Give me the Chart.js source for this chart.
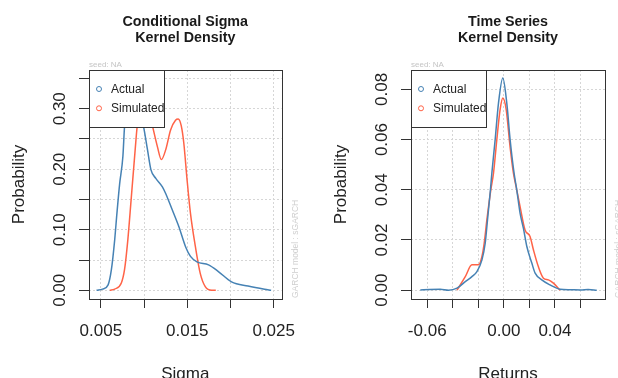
<!DOCTYPE html>
<html lang="en">
<head>
  <meta charset="UTF-8">
  <title>Kernel Density</title>
  <script src="https://cdn.jsdelivr.net/npm/chart.js"></script>
  <style>
    * {
      margin: 0;
      padding: 0;
      box-sizing: border-box;
    }

    body {
      width: 618px;
      height: 378px;
      background-color: #fff;
      position: relative;
      overflow: hidden;
    }

    .panel {
      position: absolute;
      top: 0;
      width: 309px;
      height: 378px;
    }

    #left-panel { left: 0; }
    #right-panel { left: 309px; }
  </style>
</head>
<body>
  <div class="panel" id="left-panel"><canvas id="sigma-chart" width="309" height="378"></canvas></div>
  <div class="panel" id="right-panel"><canvas id="returns-chart" width="309" height="378"></canvas></div>

  <script>
    const seriesNames = ['Actual', 'Simulated'];
    const seriesColors = ['#4682B4', '#FF6347'];

    // conditional sigma densities
    const sigmaActualX = [0.0045, 0.0052, 0.00584, 0.00622, 0.0066, 0.00686, 0.00717, 0.00755, 0.00774, 0.0081, 0.0086, 0.0092, 0.00995, 0.0104, 0.0108, 0.01136, 0.01212, 0.0125, 0.01326, 0.01403, 0.0148, 0.01537, 0.01612, 0.01746, 0.0186, 0.02012, 0.02203, 0.02394, 0.0247];
    const sigmaActualY = [0, 0.002, 0.009, 0.034, 0.083, 0.127, 0.175, 0.221, 0.27, 0.31, 0.33, 0.318, 0.27, 0.232, 0.199, 0.185, 0.171, 0.160, 0.133, 0.105, 0.072, 0.056, 0.047, 0.042, 0.031, 0.014, 0.007, 0.0017, 0];
    const sigmaSimX = [0.00603, 0.0066, 0.00737, 0.00774, 0.00812, 0.0085, 0.00897, 0.0092, 0.0096, 0.0101, 0.0106, 0.0110, 0.01155, 0.0120, 0.0125, 0.01307, 0.01364, 0.01395, 0.0143, 0.0146, 0.01498, 0.01537, 0.01594, 0.0165, 0.01708, 0.01783, 0.0183];
    const sigmaSimY = [0, 0.002, 0.012, 0.034, 0.083, 0.149, 0.232, 0.27, 0.30, 0.31, 0.295, 0.27, 0.237, 0.216, 0.232, 0.265, 0.281, 0.283, 0.272, 0.243, 0.182, 0.127, 0.072, 0.028, 0.006, 0, 0];
    const sigmaXTicks = [0.005, 0.010, 0.015, 0.020, 0.025];
    const sigmaXLabels = ['0.005', '', '0.015', '', '0.025'];
    const sigmaYTicks = [0, 0.05, 0.10, 0.15, 0.20, 0.25, 0.30, 0.35];
    const sigmaYLabels = ['0.00', '', '0.10', '', '0.20', '', '0.30', ''];

    // return densities
    const retActualX = [-0.0654, -0.058, -0.0498, -0.0433, -0.0367, -0.0302, -0.025, -0.0211, -0.0172, -0.0146, -0.0128, -0.0105, -0.0094, -0.0068, -0.0042, -0.0008, 0.0023, 0.0049, 0.008, 0.0101, 0.0127, 0.0153, 0.018, 0.0219, 0.0245, 0.0297, 0.0362, 0.044, 0.052, 0.06, 0.066, 0.0727];
    const retActualY = [0.0001, 0.0003, 0.0004, 0, 0.0008, 0.0034, 0.0054, 0.0074, 0.012, 0.0187, 0.028, 0.040, 0.0466, 0.060, 0.0745, 0.0845, 0.0745, 0.060, 0.0466, 0.040, 0.0307, 0.0247, 0.0174, 0.0108, 0.0068, 0.0041, 0.0021, 0.0004, 0.0002, 0.0001, 0.0003, 0];
    const retSimX = [-0.0367, -0.0302, -0.025, -0.0198, -0.0172, -0.0154, -0.0133, -0.0102, -0.0081, -0.0055, -0.0029, -0.0008, 0.0018, 0.0049, 0.0075, 0.0101, 0.0127, 0.0166, 0.0205, 0.0232, 0.027, 0.031, 0.0349, 0.0388, 0.044];
    const retSimY = [0, 0.0054, 0.0101, 0.0101, 0.0134, 0.0187, 0.028, 0.040, 0.0466, 0.060, 0.072, 0.0765, 0.072, 0.057, 0.0466, 0.040, 0.0333, 0.024, 0.0214, 0.016, 0.0094, 0.0048, 0.0041, 0.0028, 0];
    const retXTicks = [-0.06, -0.04, -0.02, 0, 0.02, 0.04, 0.06];
    const retXLabels = ['-0.06', '', '', '0.00', '', '0.04', ''];
    const retYTicks = [0, 0.02, 0.04, 0.06, 0.08];
    const retYLabels = ['0.00', '0.02', '0.04', '0.06', '0.08'];

    const FONT = "'Liberation Sans', Arial, Helvetica, sans-serif";
    Chart.defaults.font.family = FONT;

    function toPoints(xs, ys) {
      return xs.map((x, i) => ({ x, y: ys[i] }));
    }

    // R style extras: box, title, inset legend and margin notes
    const rPanel = {
      id: 'rPanel',
      afterDraw(chart, args, opts) {
        const { ctx, chartArea: a } = chart;
        ctx.save();

        // plot box
        ctx.strokeStyle = '#333';
        ctx.lineWidth = 1;
        ctx.strokeRect(Math.round(a.left) + 0.5, Math.round(a.top) + 0.5, Math.round(a.right - a.left), Math.round(a.bottom - a.top));

        // legend
        const lx = Math.round(a.left) + 0.5, ly = Math.round(a.top) + 0.5;
        ctx.fillStyle = '#fff';
        ctx.fillRect(lx, ly, 75, 57);
        ctx.strokeRect(lx, ly, 75, 57);
        ctx.font = '12px ' + FONT;
        ctx.textBaseline = 'middle';
        ctx.textAlign = 'left';
        chart.data.datasets.forEach((ds, i) => {
          const cy = a.top + 19 + i * 19.3;
          ctx.beginPath();
          ctx.arc(a.left + 10, cy, 2.5, 0, Math.PI * 2);
          ctx.strokeStyle = ds.borderColor;
          ctx.stroke();
          ctx.fillStyle = '#222';
          ctx.fillText(ds.label, a.left + 22, cy + 0.5);
        });

        // title
        const cx = (a.left + a.right) / 2;
        ctx.font = 'bold 14.3px ' + FONT;
        ctx.textAlign = 'center';
        ctx.fillStyle = '#1a1a1a';
        opts.title.forEach((line, i) => ctx.fillText(line, cx, 22 + i * 15.6));

        // seed note
        ctx.font = '8px ' + FONT;
        ctx.fillStyle = '#c4c4c4';
        ctx.textAlign = 'left';
        ctx.textBaseline = 'alphabetic';
        ctx.fillText('seed: NA', a.left, 66.5);

        // model note on the right margin
        ctx.translate(a.right + 14, a.bottom - 1);
        ctx.rotate(-Math.PI / 2);
        ctx.font = '8.5px ' + FONT;
        ctx.fillStyle = '#cfcfcf';
        ctx.textBaseline = 'middle';
        ctx.fillText('GARCH model : sGARCH', 0, 0);
        ctx.restore();
      }
    };

    function buildChart(canvasId, cfg) {
      const plotLeft = cfg.plotLeft;
      return new Chart(document.getElementById(canvasId), {
        type: 'scatter',
        data: {
          datasets: [
            {
              label: seriesNames[0],
              data: toPoints(cfg.actualX, cfg.actualY),
              borderColor: seriesColors[0],
              backgroundColor: seriesColors[0],
            },
            {
              label: seriesNames[1],
              data: toPoints(cfg.simX, cfg.simY),
              borderColor: seriesColors[1],
              backgroundColor: seriesColors[1],
            },
          ],
        },
        options: {
          responsive: false,
          animation: false,
          devicePixelRatio: 1,
          showLine: true,
          elements: {
            point: { radius: 0, hoverRadius: 0 },
            line: { borderWidth: 1.5, cubicInterpolationMode: 'monotone', fill: false },
          },
          layout: { padding: { top: 70, right: cfg.padRight, bottom: 0, left: 0 } },
          plugins: {
            legend: { display: false },
            tooltip: { enabled: false },
            rPanel: { title: cfg.title },
          },
          scales: {
            x: {
              type: 'linear',
              min: cfg.xMin,
              max: cfg.xMax,
              afterBuildTicks: (s) => { s.ticks = cfg.xTicks.map(v => ({ value: v })); },
              afterFit: (s) => { s.height = 79; },
              ticks: {
                autoSkip: false,
                maxRotation: 0,
                padding: 13,
                color: '#222',
                font: { size: 17 },
                callback: (v, i) => cfg.xLabels[i],
              },
              grid: { color: '#d6d6d6', tickColor: '#333', tickLength: 9, tickBorderDash: [] },
              border: { display: false, dash: [2, 2] },
              title: {
                display: true,
                text: cfg.xTitle,
                color: '#222',
                font: { size: 17 },
                padding: { top: 0, bottom: -7 },
              },
            },
            y: {
              type: 'linear',
              min: cfg.yMin,
              max: cfg.yMax,
              afterBuildTicks: (s) => { s.ticks = cfg.yTicks.map(v => ({ value: v })); },
              afterFit: (s) => { s.width = plotLeft; },
              ticks: {
                autoSkip: false,
                minRotation: 90,
                maxRotation: 90,
                crossAlign: 'center',
                padding: 2,
                color: '#222',
                font: { size: 17 },
                callback: (v, i) => cfg.yLabels[i],
              },
              grid: { color: '#d6d6d6', tickColor: '#333', tickLength: 10, tickBorderDash: [] },
              border: { display: false, dash: [2, 2] },
              title: {
                display: true,
                text: 'Probability',
                color: '#222',
                font: { size: 17 },
                padding: { top: plotLeft - 70 - 10.2, bottom: 0 },
              },
            },
          },
        },
        plugins: [rPanel],
      });
    }

    buildChart('sigma-chart', {
      title: ['Conditional Sigma', 'Kernel Density'],
      xTitle: 'Sigma',
      plotLeft: 89,
      padRight: 25,
      xMin: 0.00363, xMax: 0.02591,
      yMin: -0.0144, yMax: 0.364,
      actualX: sigmaActualX, actualY: sigmaActualY,
      simX: sigmaSimX, simY: sigmaSimY,
      xTicks: sigmaXTicks, xLabels: sigmaXLabels,
      yTicks: sigmaYTicks, yLabels: sigmaYLabels,
    });

    buildChart('returns-chart', {
      title: ['Time Series', 'Kernel Density'],
      xTitle: 'Returns',
      plotLeft: 102,
      padRight: 13,
      xMin: -0.0727, xMax: 0.0792,
      yMin: -0.0035, yMax: 0.0877,
      actualX: retActualX, actualY: retActualY,
      simX: retSimX, simY: retSimY,
      xTicks: retXTicks, xLabels: retXLabels,
      yTicks: retYTicks, yLabels: retYLabels,
    });
  </script>
</body>
</html>
